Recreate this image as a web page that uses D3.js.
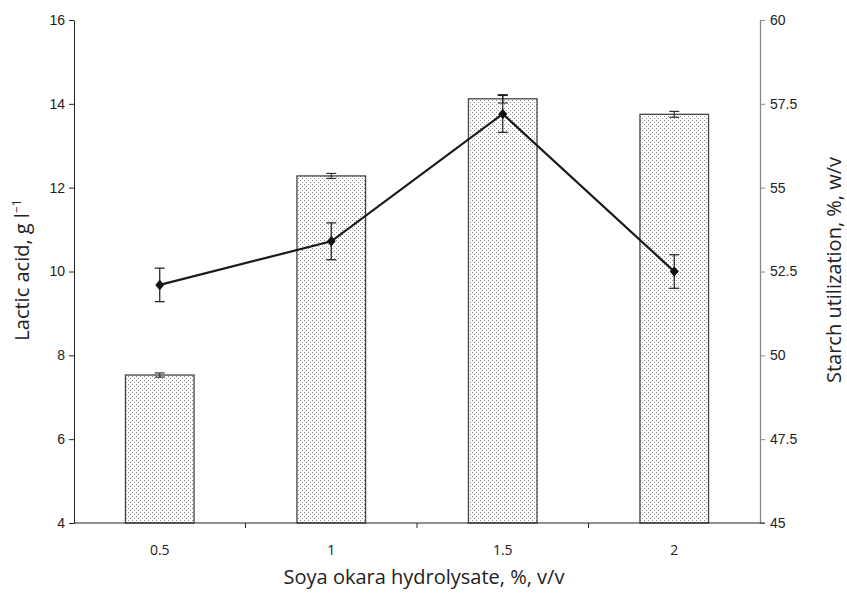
<!DOCTYPE html>
<html>
<head>
<meta charset="utf-8">
<script src="https://cdn.jsdelivr.net/npm/d3@7"></script>
<style>
  html, body { margin: 0; padding: 0; background: #fff; }
  svg { display: block; font-family: "Open Sans", "Noto Sans", sans-serif; }
</style>
</head>
<body>
<svg id="chart" width="847" height="594"></svg>
<script>
// Soya okara hydrolysate concentration (% v/v)
const categories = ["0.5", "1", "1.5", "2"];
// Lactic acid (g/l), bars on left axis
const lacticAcid = [7.53, 12.28, 14.12, 13.75];
const lacticErr = [0.05, 0.06, 0.1, 0.07];
// Starch utilization (% w/v), line on right axis
const starchUtil = [52.1, 53.4, 57.2, 52.5];
const starchErr = [0.5, 0.55, 0.55, 0.5];
const leftTicks = [4, 6, 8, 10, 12, 14, 16];
const rightTicks = [45, 47.5, 50, 52.5, 55, 57.5, 60];

const svg = d3.select("#chart");
const m = { left: 74, right: 760, top: 20, bottom: 523 };

const x = d3.scaleBand().domain(categories).range([m.left, m.right]).paddingInner(0.6).paddingOuter(0.3);
const band = d3.scaleBand().domain(categories).range([m.left, m.right]);
const yL = d3.scaleLinear().domain([4, 16]).range([m.bottom, m.top]);
const yR = d3.scaleLinear().domain([45, 60]).range([m.bottom, m.top]);

// stippled fill for the bars
const defs = svg.append("defs");
const pat = defs.append("pattern").attr("id", "dots").attr("patternUnits", "userSpaceOnUse")
  .attr("width", 4).attr("height", 4);
pat.append("rect").attr("width", 4).attr("height", 4).attr("fill", "#fff");
pat.append("rect").attr("x", 0).attr("y", 0).attr("width", 1).attr("height", 1).attr("fill", "#8a8a8a");
pat.append("rect").attr("x", 2).attr("y", 2).attr("width", 1).attr("height", 1).attr("fill", "#8a8a8a");

// bars
svg.append("g").selectAll("rect").data(categories).join("rect")
  .attr("x", d => x(d)).attr("width", x.bandwidth())
  .attr("y", (d, i) => yL(lacticAcid[i]))
  .attr("height", (d, i) => yL(4) - yL(lacticAcid[i]))
  .attr("fill", "url(#dots)").attr("stroke", "#444").attr("stroke-width", 1.3);

// bar error bars
const cx = d => band(d) + band.bandwidth() / 2;
const barErr = svg.append("g").attr("stroke", "#333").attr("stroke-width", 1.2);
categories.forEach((d, i) => {
  const c = cx(d), t = yL(lacticAcid[i] + lacticErr[i]), b = yL(lacticAcid[i] - lacticErr[i]);
  barErr.append("line").attr("x1", c).attr("x2", c).attr("y1", t).attr("y2", b);
  barErr.append("line").attr("x1", c - 5).attr("x2", c + 5).attr("y1", t).attr("y2", t);
  barErr.append("line").attr("x1", c - 5).attr("x2", c + 5).attr("y1", b).attr("y2", b);
});

// axes
const axL = svg.append("g").attr("transform", `translate(${m.left},0)`)
  .call(d3.axisLeft(yL).tickValues(leftTicks).tickSize(5).tickSizeOuter(0).tickFormat(d3.format("d")));
axL.select(".domain").attr("stroke", "#222");
axL.selectAll(".tick line").attr("stroke", "#222");
axL.selectAll("text").attr("font-size", 14).attr("fill", "#222").attr("dx", "-1");

const axR = svg.append("g").attr("transform", `translate(${m.right},0)`)
  .call(d3.axisRight(yR).tickValues(rightTicks).tickSize(5).tickSizeOuter(0).tickFormat(d => d));
axR.select(".domain").attr("stroke", "#888").attr("stroke-width", 1.3);
axR.selectAll(".tick line").attr("stroke", "#888");
axR.selectAll("text").attr("font-size", 14).attr("fill", "#222").attr("dx", "2");

// x axis line, separators between groups, labels
svg.append("line").attr("x1", m.left).attr("x2", m.right + 5).attr("y1", m.bottom).attr("y2", m.bottom)
  .attr("stroke", "#222").attr("stroke-width", 1.2);
svg.append("g").selectAll("line").data(categories.slice(1)).join("line")
  .attr("x1", d => band(d)).attr("x2", d => band(d))
  .attr("y1", m.bottom).attr("y2", m.bottom + 5).attr("stroke", "#222");
svg.append("g").selectAll("text").data(categories).join("text")
  .attr("x", d => cx(d)).attr("y", 555).attr("text-anchor", "middle")
  .attr("font-size", 14).attr("fill", "#222").text(d => d);

// starch utilization line
const line = d3.line().x((d, i) => cx(categories[i])).y(d => yR(d));
svg.append("path").datum(starchUtil).attr("d", line)
  .attr("fill", "none").attr("stroke", "#1a1a1a").attr("stroke-width", 2.2);

const lineErr = svg.append("g").attr("stroke", "#1a1a1a").attr("stroke-width", 1.2);
categories.forEach((d, i) => {
  const c = cx(d), t = yR(starchUtil[i] + starchErr[i]), b = yR(starchUtil[i] - starchErr[i]);
  lineErr.append("line").attr("x1", c).attr("x2", c).attr("y1", t).attr("y2", b);
  lineErr.append("line").attr("x1", c - 5).attr("x2", c + 5).attr("y1", t).attr("y2", t);
  lineErr.append("line").attr("x1", c - 5).attr("x2", c + 5).attr("y1", b).attr("y2", b);
});

svg.append("g").selectAll("path").data(starchUtil).join("path")
  .attr("d", d3.symbol(d3.symbolDiamond2, 70))
  .attr("transform", (d, i) => `translate(${cx(categories[i])},${yR(d)}) scale(0.85,1)`)
  .attr("fill", "#111");

// axis titles
svg.append("text").attr("transform", "translate(29,270) rotate(-90)")
  .attr("text-anchor", "middle").attr("font-size", 20).attr("fill", "#222")
  .html('Lactic acid, g l<tspan dy="-8" font-size="12">−1</tspan>');
svg.append("text").attr("transform", "translate(841,270) rotate(-90)")
  .attr("text-anchor", "middle").attr("font-size", 20).attr("fill", "#222")
  .text("Starch utilization, %, w/v");
svg.append("text").attr("x", 424).attr("y", 584).attr("text-anchor", "middle")
  .attr("font-size", 20).attr("fill", "#222").text("Soya okara hydrolysate, %, v/v");
</script>
</body>
</html>
